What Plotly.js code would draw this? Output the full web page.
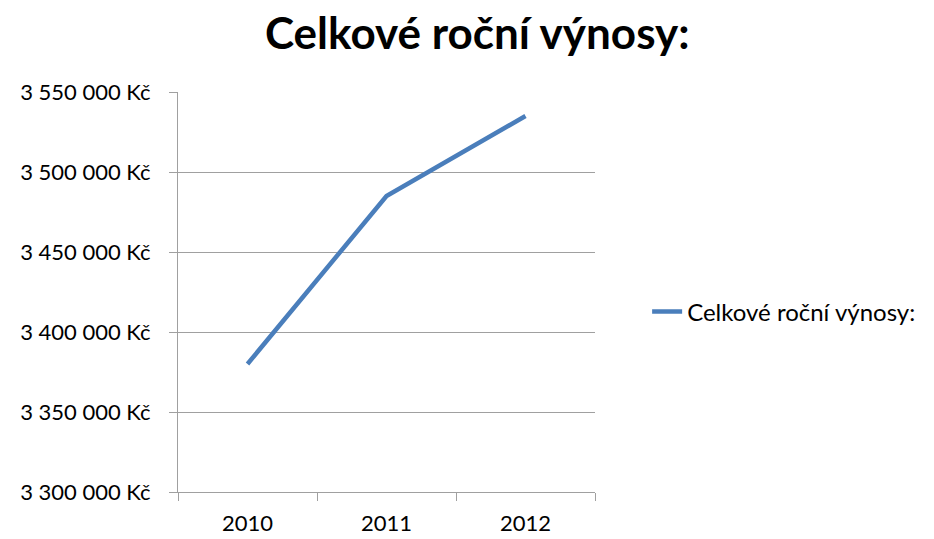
<!DOCTYPE html>
<html>
<head>
<meta charset="utf-8">
<script src="https://cdn.plot.ly/plotly-3.0.1.min.js"></script>
<style>html,body{margin:0;padding:0;background:#fff;}#chart{width:934px;height:539px;}</style>
</head>
<body>
<div id="chart"></div>
<script>
const years = ["2010", "2011", "2012"];
const revenue = [3380000, 3485000, 3535000];
const seriesName = "Celkové roční výnosy:";
const chartTitle = "Celkové roční výnosy:";
const yTickVals = [3300000, 3350000, 3400000, 3450000, 3500000, 3550000];

function fmtKc(v) {
  const s = String(v).replace(/\B(?=(\d{3})+(?!\d))/g, " ");
  return s + " Kč";
}
const yTickText = yTickVals.map(fmtKc);

const trace = {
  x: years,
  y: revenue,
  type: "scatter",
  mode: "lines",
  name: seriesName,
  line: {color: "#4a7ebb", width: 4.5},
  showlegend: true
};

const layout = {
  width: 934,
  height: 539,
  margin: {l: 178, r: 339, t: 92, b: 47},
  paper_bgcolor: "#ffffff",
  plot_bgcolor: "#ffffff",
  font: {family: "Lato, 'Open Sans', sans-serif", size: 22, color: "#000"},
  title: {
    text: "<b>" + chartTitle + "</b>",
    font: {family: "Lato, 'Open Sans', sans-serif", size: 44, color: "#000"},
    x: 0.511, xanchor: "center", y: 0.937, yanchor: "middle"
  },
  xaxis: {
    type: "category",
    range: [-0.5, 2.5],
    showgrid: false,
    showline: true,
    linecolor: "#a0a0a0",
    linewidth: 1,
    ticks: "outside",
    tickson: "boundaries",
    ticklen: 8,
    tickcolor: "#a0a0a0",
    tickfont: {size: 22},
    ticklabelstandoff: 12,
    zeroline: false,
    fixedrange: true
  },
  yaxis: {
    range: [3300000, 3550000],
    tickvals: yTickVals,
    ticktext: yTickText,
    showgrid: true,
    gridcolor: "#a0a0a0",
    gridwidth: 1,
    showline: true,
    linecolor: "#a0a0a0",
    ticks: "outside",
    ticklen: 8,
    tickcolor: "#a0a0a0",
    tickfont: {size: 22},
    ticklabelstandoff: 14,
    zeroline: false,
    fixedrange: true
  },
  legend: {
    x: 1.125, xanchor: "left",
    y: 0.45, yanchor: "middle",
    font: {size: 24},
    borderwidth: 0,
    bgcolor: "rgba(0,0,0,0)"
  }
};

Plotly.newPlot("chart", [trace], layout, {displayModeBar: false, staticPlot: true});
</script>
</body>
</html>
